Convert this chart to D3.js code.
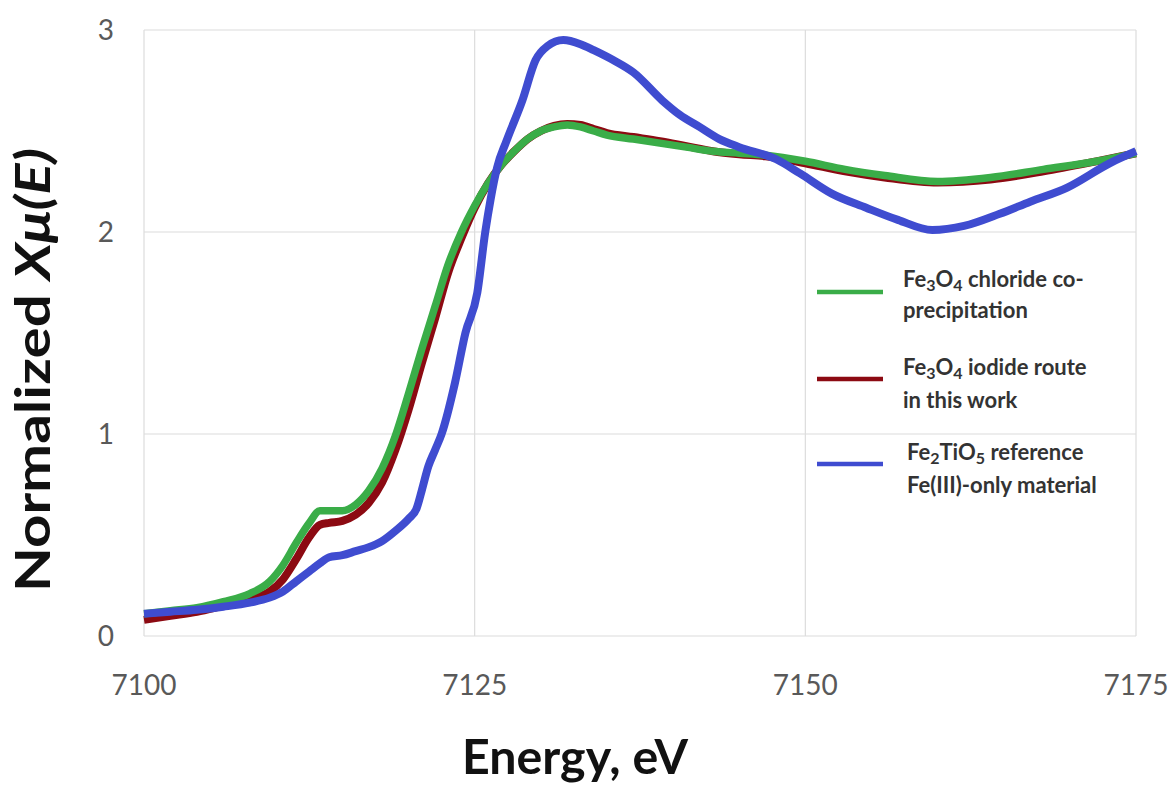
<!DOCTYPE html>
<html>
<head>
<meta charset="utf-8">
<style>
  body { margin: 0; background: #fff; }
  text { font-family: Lato, "Open Sans", "Liberation Sans", sans-serif; }
</style>
</head>
<body>
<svg id="chart" width="1172" height="787"></svg>
<script src="https://d3js.org/d3.v7.min.js"></script>
<script>
    const WIDTH = 1172;
    const HEIGHT = 787;

    // tick labels
    const xTicks = [7100, 7125, 7150, 7175];
    const yTicks = [0, 1, 2, 3];

    // Fe3O4 chloride co-precipitation
    const greenE = [7100, 7102, 7104, 7106, 7108, 7109.5, 7110.5, 7111.5, 7112.5, 7113.3, 7114, 7115, 7116, 7117, 7118, 7119, 7120, 7121, 7122, 7123, 7124, 7125, 7126, 7127, 7128, 7129, 7130, 7131, 7132, 7133, 7134, 7135, 7137, 7139, 7141, 7143, 7145, 7147, 7150, 7153, 7156, 7160, 7164, 7168, 7172, 7175];
    const greenV = [0.11, 0.125, 0.14, 0.17, 0.21, 0.27, 0.35, 0.46, 0.56, 0.62, 0.62, 0.62, 0.65, 0.72, 0.83, 0.99, 1.20, 1.42, 1.63, 1.84, 2.0, 2.13, 2.24, 2.33, 2.40, 2.46, 2.50, 2.52, 2.53, 2.52, 2.50, 2.48, 2.46, 2.44, 2.42, 2.40, 2.39, 2.38, 2.35, 2.31, 2.28, 2.25, 2.27, 2.31, 2.35, 2.39];

    // Fe3O4 iodide route
    const redE = greenE;
    const redV = [0.08, 0.10, 0.12, 0.15, 0.18, 0.22, 0.28, 0.38, 0.49, 0.55, 0.56, 0.57, 0.60, 0.66, 0.76, 0.92, 1.12, 1.35, 1.57, 1.80, 1.97, 2.12, 2.24, 2.33, 2.40, 2.46, 2.50, 2.525, 2.535, 2.53, 2.51, 2.49, 2.47, 2.45, 2.425, 2.40, 2.385, 2.375, 2.34, 2.30, 2.27, 2.245, 2.26, 2.30, 2.35, 2.39];

    // Fe2TiO5 reference
    const blueE = [7100, 7102, 7104, 7106, 7108, 7109.5, 7110.5, 7111.5, 7112.5, 7113.3, 7114, 7115, 7116, 7117, 7118, 7119, 7120, 7120.6, 7121, 7121.5, 7122, 7122.5, 7123.5, 7124.3, 7125.2, 7125.8, 7126.2, 7126.7, 7127.4, 7128.6, 7129.6, 7130.5, 7131.7, 7133, 7134, 7135.5, 7137, 7139.2, 7140.5, 7142, 7143.5, 7145, 7147.8, 7149.6, 7152, 7154.6, 7157, 7159.6, 7162, 7164.7, 7167, 7169.8, 7173, 7175];
    const blueV = [0.11, 0.12, 0.13, 0.145, 0.165, 0.19, 0.22, 0.27, 0.32, 0.36, 0.39, 0.40, 0.42, 0.44, 0.47, 0.52, 0.58, 0.63, 0.72, 0.84, 0.92, 1.0, 1.25, 1.5, 1.70, 2.0, 2.16, 2.32, 2.45, 2.65, 2.85, 2.92, 2.95, 2.93, 2.90, 2.85, 2.79, 2.65, 2.58, 2.52, 2.46, 2.42, 2.36, 2.29, 2.19, 2.12, 2.06, 2.01, 2.03, 2.09, 2.15, 2.22, 2.34, 2.40];

    const svg = d3.select('#chart');

    let x = d3.scaleLinear().domain([7100, 7175]).range([144, 1136]);
    let y = d3.scaleLinear().domain([0, 3]).range([636, 30]);

    // grid
    svg.append('g')
        .selectAll('line')
        .data(yTicks)
        .join('line')
        .attr('x1', x(7100)).attr('x2', x(7175))
        .attr('y1', d => y(d)).attr('y2', d => y(d))
        .attr('stroke', '#dcdcdc').attr('stroke-width', 1.2);

    svg.append('g')
        .selectAll('line')
        .data(xTicks)
        .join('line')
        .attr('x1', d => x(d)).attr('x2', d => x(d))
        .attr('y1', y(0)).attr('y2', y(3))
        .attr('stroke', '#dcdcdc').attr('stroke-width', 1.2);

    // tick labels
    svg.append('g')
        .selectAll('text')
        .data(xTicks)
        .join('text')
        .attr('x', d => x(d)).attr('y', 695)
        .attr('text-anchor', 'middle')
        .attr('font-size', 28)
        .attr('fill', '#595959')
        .text(d => d);

    svg.append('g')
        .selectAll('text')
        .data(yTicks)
        .join('text')
        .attr('x', 114).attr('y', d => y(d) + 10)
        .attr('text-anchor', 'end')
        .attr('font-size', 28)
        .attr('fill', '#595959')
        .text(d => d);

    // curves
    function toPts(es, vs) {
        return es.map((e, i) => [e, vs[i]]);
    }
    let line = d3.line()
        .x(d => x(d[0]))
        .y(d => y(d[1]))
        .curve(d3.curveMonotoneX);

    svg.append('path')
        .attr('d', line(toPts(redE, redV)))
        .attr('fill', 'none').attr('stroke', '#8c0a12')
        .attr('stroke-width', 8).attr('stroke-linejoin', 'round');

    svg.append('path')
        .attr('d', line(toPts(greenE, greenV)))
        .attr('fill', 'none').attr('stroke', '#3aad48')
        .attr('stroke-width', 7.5).attr('stroke-linejoin', 'round');

    svg.append('path')
        .attr('d', line(toPts(blueE, blueV)))
        .attr('fill', 'none').attr('stroke', '#3f4cd0')
        .attr('stroke-width', 8).attr('stroke-linejoin', 'round');

    // legend
    const legColors = ['#3aad48', '#8c0a12', '#3f4cd0'];
    const legY = [292, 379, 464];
    const leg = svg.append('g');
    legColors.forEach(function(c, i) {
        leg.append('line')
            .attr('x1', 817).attr('x2', 883)
            .attr('y1', legY[i]).attr('y2', legY[i])
            .attr('stroke', c).attr('stroke-width', 4.5);
    });

    // parts: plain strings, or {s: '3'} for a subscript
    function chem(parts, xx, yy) {
        let txt = leg.append('text')
            .attr('x', xx).attr('y', yy)
            .attr('font-size', 22).attr('font-weight', 'bold')
            .attr('fill', '#333');
        let shift = 0;
        parts.forEach(function(p) {
            if (typeof p === 'string') {
                txt.append('tspan').attr('dy', -shift).text(p);
                shift = 0;
            } else {
                txt.append('tspan').attr('dy', 4 - shift).attr('font-size', 16).text(p.s);
                shift = 4;
            }
        });
    }

    chem(['Fe', {s: '3'}, 'O', {s: '4'}, ' chloride co-'], 903, 287);
    chem(['precipitation'], 903, 318);
    chem(['Fe', {s: '3'}, 'O', {s: '4'}, ' iodide route'], 903, 375);
    chem(['in this work'], 903, 408);
    chem(['Fe', {s: '2'}, 'TiO', {s: '5'}, ' reference'], 907, 460);
    chem(['Fe(III)-only material'], 907, 493);

    // axis titles
    svg.append('text')
        .attr('x', 575).attr('y', 774)
        .attr('text-anchor', 'middle')
        .attr('font-size', 48).attr('font-weight', 'bold')
        .attr('textLength', 226).attr('lengthAdjust', 'spacingAndGlyphs')
        .attr('fill', '#111')
        .text('Energy, eV');

    let yt = svg.append('text')
        .attr('transform', 'translate(50,370) rotate(-90)')
        .attr('text-anchor', 'middle')
        .attr('font-size', 48).attr('font-weight', 'bold')
        .attr('textLength', 444).attr('lengthAdjust', 'spacingAndGlyphs')
        .attr('fill', '#111');
    yt.append('tspan').text('Normalized ');
    yt.append('tspan').attr('font-style', 'italic').text('Xμ(E)');
</script>
</body>
</html>
